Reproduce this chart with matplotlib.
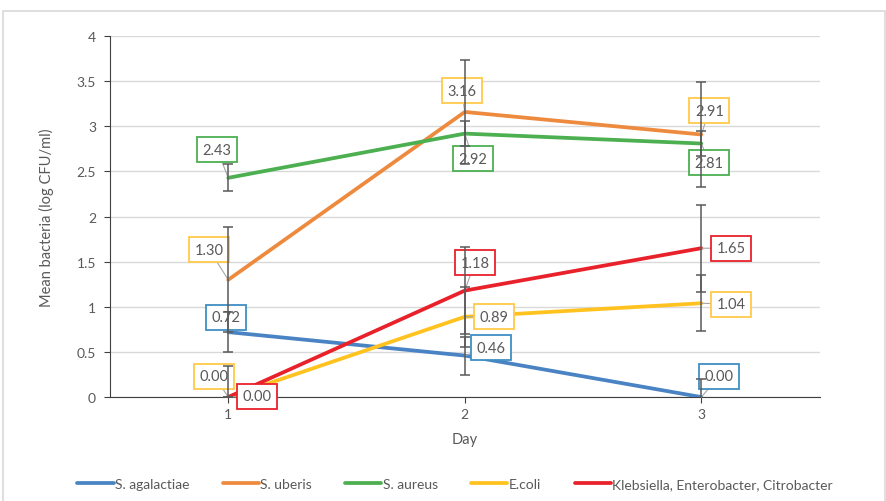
import matplotlib.pyplot as plt
from matplotlib.patches import Rectangle

plt.rcParams['font.family'] = ['Lato', 'DejaVu Sans']

days = [1, 2, 3]
day_labels = ["1", "2", "3"]

series_names = ["S. agalactiae", "S. uberis", "S. aureus", "E.coli",
                "Klebsiella, Enterobacter, Citrobacter"]
agalactiae = [0.72, 0.46, 0.00]
agalactiae_err = [0.22, 0.21, 0.20]
uberis = [1.30, 3.16, 2.91]
uberis_err = [0.58, 0.58, 0.58]
aureus = [2.43, 2.92, 2.81]
aureus_err = [0.15, 0.14, 0.14]
ecoli = [0.00, 0.89, 1.04]
ecoli_err = [0.34, 0.33, 0.31]
kleb = [0.00, 1.18, 1.65]
kleb_err = [0.0, 0.48, 0.48]

values = [agalactiae, uberis, aureus, ecoli, kleb]
errors = [agalactiae_err, uberis_err, aureus_err, ecoli_err, kleb_err]
colors = ["#4A83C4", "#EE8A3E", "#4CAF50", "#FFC21F", "#E8212B"]
box_colors = ["#3F8FC4", "#FFC94A", "#4CAF50", "#FFC94A", "#E8212B"]

# label offsets in pixels (dx, dy) for each series / day
offsets = [
    [(-2, 15), (26, 8), (18, 21)],
    [(-19, 30), (-3, 21), (8, 24)],
    [(-11, 28), (8, -25), (8, -19)],
    [(-14, 21), (29, 0), (30, -1)],
    [(29, 1), (10, 28), (30, 0)],
]

fig = plt.figure(figsize=(8.87, 5.02), dpi=100)
ax = fig.add_axes([0.124, 0.207, 0.800, 0.719])

fig.patches.append(Rectangle((3 / 887, -0.01), 882 / 887, 1 - 12 / 502 + 0.01,
                             transform=fig.transFigure, fill=False,
                             edgecolor="#D9D9D9", linewidth=1.2))

for name, v, c in zip(series_names, values, colors):
    ax.plot(days, v, color=c, linewidth=2.7, label=name, zorder=4,
            solid_capstyle="round")

for v, e in zip(values, errors):
    ax.errorbar(days, v, yerr=e, fmt="none", ecolor="#595959", elinewidth=1.1,
                capsize=3.5, capthick=1.1, zorder=6)

for v, bc, offs in zip(values, box_colors, offsets):
    for d, val, (dx, dy) in zip(days, v, offs):
        ax.annotate(f"{val:.2f}", xy=(d, val), xytext=(dx, dy),
                    textcoords="offset pixels", ha="center", va="center",
                    fontsize=10.5, color="#595959", zorder=5,
                    bbox=dict(boxstyle="square,pad=0.38", facecolor="white",
                              edgecolor=bc, linewidth=1.3),
                    arrowprops=dict(arrowstyle="-", color="#A6A6A6",
                                    linewidth=0.8, shrinkA=0, shrinkB=0))

ax.set_xlim(0.5, 3.5)
ax.set_ylim(0, 4)
ax.set_xticks(days)
ax.set_xticklabels(day_labels)
yt = [0, 0.5, 1, 1.5, 2, 2.5, 3, 3.5, 4]
ax.set_yticks(yt)
ax.set_yticklabels([f"{t:g}" for t in yt])
ax.grid(axis="y", color="#D9D9D9", linewidth=1)
ax.set_axisbelow(True)
for s in ["top", "right"]:
    ax.spines[s].set_visible(False)
ax.spines["left"].set_color("#404040")
ax.spines["bottom"].set_color("#404040")
ax.tick_params(axis="both", colors="#404040", labelcolor="#595959",
               labelsize=10, length=4)
ax.tick_params(axis="y", pad=6)

ax.set_xlabel("Day", fontsize=10.5, color="#595959", labelpad=9)
ax.set_ylabel("Mean bacteria (log CFU/ml)", fontsize=10.5, color="#595959",
              labelpad=16)

fig.legend(loc="center", bbox_to_anchor=(0.513, 0.034), ncol=5, frameon=False,
           fontsize=10, handlelength=2.6, handletextpad=0.1, columnspacing=2.4,
           labelcolor="#595959")

fig.savefig("out.png", dpi=100)
